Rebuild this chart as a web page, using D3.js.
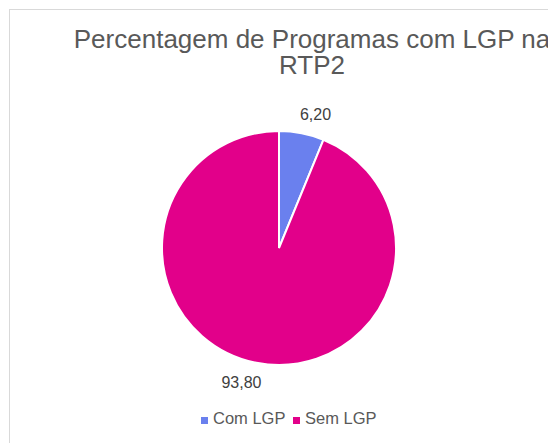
<!DOCTYPE html>
<html>
<head>
<meta charset="utf-8">
<script src="https://cdn.jsdelivr.net/npm/d3@7"></script>
<style>
  body { margin: 0; background: #fff; }
  svg { display: block; font-family: "Liberation Sans", Arial, sans-serif; }
</style>
</head>
<body>
<script>
//chart data
var categories = ["Com LGP", "Sem LGP"];
var values = [6.20, 93.80];
var colors = ["#6a80ee", "#e2008a"];
var titleLines = ["Percentagem de Programas com LGP na", "RTP2"];

window.onload = drawChart();

function drawChart(){

    var width = 548,
        height = 443;

    var svg = d3.select("body")
        .append("svg")
        .attr("width", width)
        .attr("height", height);

    //chart area border, runs off the right and bottom edge
    svg.append("rect")
        .attr("x", 9.5)
        .attr("y", 9.5)
        .attr("width", 700)
        .attr("height", 700)
        .attr("fill", "#fff")
        .attr("stroke", "#d9d9d9")
        .attr("stroke-width", 1);

    //title (wider than the visible area, cut at the right like the original)
    var title = svg.append("text")
        .attr("text-anchor", "middle")
        .attr("fill", "#595959")
        .style("font-size", "26px");
    title.selectAll("tspan")
        .data(titleLines)
        .enter()
        .append("tspan")
        .attr("x", 312)
        .attr("y", function(d, i){ return 48 + i * 26; })
        .text(function(d){ return d; });

    //pie
    var cx = 279, cy = 248, radius = 117;

    var pie = d3.pie()
        .sort(null)
        .value(function(d){ return d; });

    var arc = d3.arc()
        .innerRadius(0)
        .outerRadius(radius);

    var arcs = pie(values);

    var g = svg.append("g")
        .attr("transform", "translate(" + cx + "," + cy + ")");

    g.selectAll(".slice")
        .data(arcs)
        .enter()
        .append("path")
        .attr("class", "slice")
        .attr("d", arc)
        .attr("fill", function(d, i){ return colors[i]; })
        .attr("stroke", "#fff")
        .attr("stroke-width", 2);

    //data labels, outside end
    var fmt = function(v){ return d3.format(".2f")(v).replace(".", ","); };

    g.selectAll(".label")
        .data(arcs)
        .enter()
        .append("text")
        .attr("class", "label")
        .attr("text-anchor", "middle")
        .attr("fill", "#404040")
        .style("font-size", "16px")
        .attr("x", function(d){
            var a = (d.startAngle + d.endAngle) / 2;
            return Math.sin(a) * (radius + 20) + (Math.sin(a) > 0 ? 10 : -11);
        })
        .attr("y", function(d){
            var a = (d.startAngle + d.endAngle) / 2;
            return -Math.cos(a) * (radius + 20) + 6;
        })
        .text(function(d){ return fmt(d.data); });

    //legend
    var legendX = [201, 293];
    var legend = svg.selectAll(".legend")
        .data(categories)
        .enter()
        .append("g")
        .attr("class", "legend")
        .attr("transform", function(d, i){ return "translate(" + legendX[i] + ",417)"; });

    legend.append("rect")
        .attr("width", 7)
        .attr("height", 7)
        .attr("fill", function(d, i){ return colors[i]; });

    legend.append("text")
        .attr("x", 12)
        .attr("y", 7)
        .attr("fill", "#595959")
        .style("font-size", "16.5px")
        .text(function(d){ return d; });
}
</script>
</body>
</html>
